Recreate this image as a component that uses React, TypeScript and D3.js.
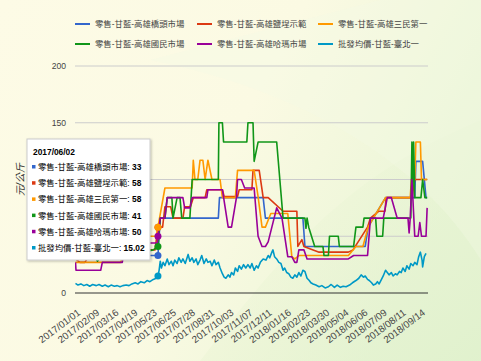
import React from 'react'
import * as d3 from 'd3'

const W = 481
const H = 361

const tickLabels = [
  '2017/01/01', '2017/02/09', '2017/03/16', '2017/04/19', '2017/05/23', '2017/06/25',
  '2017/07/28', '2017/08/31', '2017/10/03', '2017/11/07', '2017/12/11', '2018/01/16',
  '2018/02/23', '2018/03/30', '2018/05/04', '2018/06/06', '2018/07/09', '2018/08/11', '2018/09/14',
]
const yTicks = [0, 50, 100, 150, 200]
const seriesNames = [
  '零售-甘藍-高雄橋頭市場', '零售-甘藍-高雄鹽埕示範', '零售-甘藍-高雄三民第一',
  '零售-甘藍-高雄國民市場', '零售-甘藍-高雄哈瑪市場', '批發均價-甘藍-臺北一',
]
const colors = ['#3366cc', '#dc3912', '#ff9900', '#109618', '#990099', '#0099c6']

const hoverDate = '2017/06/02'
const hoverValues = [33, 58, 58, 41, 50, 15.02]

type P = [string, number]

const qiaotou: P[] = [
  ['2017-01-01', 31], ['2017-03-01', 31], ['2017-03-05', 32], ['2017-04-20', 32], ['2017-04-25', 33],
  ['2017-06-02', 33], ['2017-06-06', 66], ['2017-09-15', 66], ['2017-09-17', 84], ['2017-12-04', 84],
  ['2017-12-08', 66], ['2018-02-18', 66], ['2018-02-22', 41], ['2018-06-10', 41], ['2018-06-15', 58],
  ['2018-06-24', 66], ['2018-07-15', 84], ['2018-09-04', 84], ['2018-09-06', 116], ['2018-09-18', 116],
  ['2018-09-24', 84], ['2018-09-26', 84],
]
const yancheng: P[] = [
  ['2017-01-01', 30], ['2017-01-10', 27], ['2017-01-20', 27], ['2017-01-26', 31], ['2017-03-01', 31],
  ['2017-04-20', 35], ['2017-05-15', 38], ['2017-05-28', 38], ['2017-06-02', 58], ['2017-06-10', 58],
  ['2017-06-14', 76], ['2017-06-24', 76], ['2017-06-28', 66], ['2017-07-15', 66], ['2017-07-18', 76],
  ['2017-07-28', 76], ['2017-08-02', 84], ['2017-08-23', 84], ['2017-08-26', 91], ['2017-09-22', 91],
  ['2017-09-25', 85], ['2017-10-19', 85], ['2017-10-22', 91], ['2017-11-14', 91], ['2017-11-16', 108],
  ['2017-11-27', 108], ['2017-12-02', 91], ['2017-12-04', 84], ['2017-12-13', 84], ['2018-01-10', 72],
  ['2018-02-06', 72], ['2018-02-08', 41], ['2018-02-16', 47], ['2018-02-20', 41], ['2018-03-20', 36],
  ['2018-05-12', 36], ['2018-05-20', 38], ['2018-06-14', 58], ['2018-06-19', 66], ['2018-07-03', 72],
  ['2018-07-14', 72], ['2018-07-16', 84], ['2018-08-30', 84], ['2018-09-04', 100], ['2018-09-26', 100],
]
const sanmin: P[] = [
  ['2017-01-01', 27], ['2017-03-28', 27], ['2017-04-02', 34], ['2017-04-20', 34], ['2017-04-25', 45],
  ['2017-05-15', 50], ['2017-05-30', 50], ['2017-06-02', 58], ['2017-06-14', 92.5], ['2017-07-31', 92.5],
  ['2017-08-02', 117], ['2017-08-05', 100], ['2017-08-10', 100], ['2017-08-14', 117], ['2017-08-19', 117],
  ['2017-08-23', 100], ['2017-08-28', 117], ['2017-09-04', 100], ['2017-09-18', 100], ['2017-09-22', 84],
  ['2017-10-15', 84], ['2017-10-19', 108], ['2017-11-18', 108], ['2017-11-25', 85], ['2017-12-02', 58],
  ['2017-12-08', 58], ['2017-12-18', 70], ['2018-01-19', 70], ['2018-01-27', 32], ['2018-02-02', 30],
  ['2018-02-10', 33], ['2018-05-12', 33], ['2018-05-25', 41], ['2018-06-06', 41], ['2018-06-15', 58],
  ['2018-06-24', 66], ['2018-07-15', 84], ['2018-08-27', 84], ['2018-08-29', 100], ['2018-09-04', 100],
  ['2018-09-06', 133], ['2018-09-14', 133], ['2018-09-16', 100], ['2018-09-26', 100],
]
const guomin: P[] = [
  ['2017-01-01', 32], ['2017-02-10', 32], ['2017-02-14', 28], ['2017-02-20', 32], ['2017-04-10', 34],
  ['2017-05-25', 38], ['2017-06-02', 41], ['2017-06-06', 66], ['2017-06-14', 66], ['2017-06-18', 84],
  ['2017-06-26', 84], ['2017-06-28', 66], ['2017-07-05', 84], ['2017-07-10', 84], ['2017-07-13', 66],
  ['2017-07-27', 66], ['2017-07-31', 100], ['2017-09-15', 100], ['2017-09-16', 150], ['2017-09-22', 150],
  ['2017-09-24', 133], ['2017-11-05', 133], ['2017-11-07', 150], ['2017-11-16', 150], ['2017-11-18', 116],
  ['2017-11-25', 133], ['2017-12-29', 133], ['2018-01-10', 66], ['2018-02-22', 66], ['2018-02-24', 57],
  ['2018-02-26', 66], ['2018-03-01', 58], ['2018-03-12', 41], ['2018-03-27', 41], ['2018-03-29', 33],
  ['2018-04-06', 33], ['2018-04-08', 50], ['2018-04-24', 50], ['2018-04-26', 41], ['2018-05-21', 41],
  ['2018-05-25', 58], ['2018-06-06', 58], ['2018-06-08', 66], ['2018-06-28', 66], ['2018-06-30', 50],
  ['2018-07-10', 50], ['2018-07-12', 66], ['2018-08-28', 66], ['2018-08-30', 133], ['2018-08-31', 84],
  ['2018-09-02', 133], ['2018-09-04', 84], ['2018-09-15', 84], ['2018-09-18', 100], ['2018-09-22', 84],
  ['2018-09-26', 84],
]
const hama: P[] = [
  ['2017-01-01', 27], ['2017-01-02', 20], ['2017-02-20', 20], ['2017-02-23', 27], ['2017-03-31', 27],
  ['2017-04-04', 40], ['2017-05-20', 44], ['2017-06-01', 44], ['2017-06-02', 50], ['2017-06-06', 66],
  ['2017-06-14', 66], ['2017-06-18', 84], ['2017-07-15', 84], ['2017-07-18', 75], ['2017-07-27', 75],
  ['2017-07-31', 84], ['2017-08-26', 84], ['2017-08-28', 91], ['2017-09-22', 91], ['2017-10-02', 58],
  ['2017-10-08', 58], ['2017-10-17', 84], ['2017-10-19', 100], ['2017-10-26', 100], ['2017-11-01', 92.5],
  ['2017-11-18', 92.5], ['2017-11-25', 50], ['2017-12-02', 41], ['2017-12-08', 41], ['2017-12-13', 45],
  ['2017-12-29', 75], ['2018-01-08', 66], ['2018-01-19', 32], ['2018-01-27', 32], ['2018-02-02', 27],
  ['2018-02-06', 27], ['2018-02-10', 38], ['2018-02-20', 38], ['2018-02-26', 30], ['2018-05-12', 30],
  ['2018-05-21', 33], ['2018-06-14', 33], ['2018-06-19', 66], ['2018-07-11', 66], ['2018-07-18', 84],
  ['2018-07-25', 84], ['2018-08-04', 66], ['2018-08-23', 66], ['2018-08-25', 53], ['2018-08-27', 66],
  ['2018-08-30', 100], ['2018-09-04', 50], ['2018-09-10', 50], ['2018-09-13', 62], ['2018-09-16', 50],
  ['2018-09-24', 50], ['2018-09-26', 75],
]
const taipei: P[] = [
  ['2017-01-01', 8.5], ['2017-01-06', 7], ['2017-01-12', 8], ['2017-01-18', 6.5], ['2017-01-24', 7.5],
  ['2017-01-30', 6], ['2017-02-05', 7.5], ['2017-02-12', 6.5], ['2017-02-17', 7.5], ['2017-02-23', 6],
  ['2017-02-28', 7], ['2017-03-06', 5.5], ['2017-03-11', 7], ['2017-03-17', 6], ['2017-03-22', 6.5],
  ['2017-03-27', 5.5], ['2017-04-01', 6.5], ['2017-04-07', 7], ['2017-04-12', 6.5], ['2017-04-17', 8],
  ['2017-04-23', 9], ['2017-04-28', 8], ['2017-05-03', 10], ['2017-05-09', 9], ['2017-05-14', 11],
  ['2017-05-19', 10], ['2017-05-25', 12], ['2017-05-30', 13], ['2017-06-02', 15.02], ['2017-06-04', 20],
  ['2017-06-06', 28], ['2017-06-08', 22], ['2017-06-11', 27], ['2017-06-14', 24], ['2017-06-18', 30],
  ['2017-06-21', 25], ['2017-06-25', 28], ['2017-06-28', 24], ['2017-07-01', 29], ['2017-07-05', 26],
  ['2017-07-08', 31], ['2017-07-12', 27], ['2017-07-15', 30], ['2017-07-19', 26], ['2017-07-24', 34],
  ['2017-07-27', 28], ['2017-07-31', 31], ['2017-08-03', 27], ['2017-08-07', 30], ['2017-08-10', 25],
  ['2017-08-14', 29], ['2017-08-17', 33], ['2017-08-21', 26], ['2017-08-25', 30], ['2017-08-28', 27],
  ['2017-09-01', 28], ['2017-09-04', 24], ['2017-09-08', 29], ['2017-09-11', 25], ['2017-09-15', 27],
  ['2017-09-18', 22], ['2017-09-22', 17], ['2017-09-25', 14], ['2017-09-28', 13], ['2017-10-02', 16],
  ['2017-10-05', 14], ['2017-10-08', 18], ['2017-10-12', 16], ['2017-10-15', 22], ['2017-10-19', 19],
  ['2017-10-22', 24], ['2017-10-26', 21], ['2017-10-30', 25], ['2017-11-03', 22], ['2017-11-07', 25],
  ['2017-11-11', 22], ['2017-11-14', 26], ['2017-11-18', 20], ['2017-11-22', 24], ['2017-11-25', 22],
  ['2017-11-29', 27], ['2017-12-04', 30], ['2017-12-09', 29], ['2017-12-13', 33], ['2017-12-16', 31],
  ['2017-12-20', 36], ['2017-12-22', 38], ['2017-12-25', 32], ['2017-12-29', 30], ['2018-01-02', 27],
  ['2018-01-06', 26], ['2018-01-10', 20], ['2018-01-13', 22], ['2018-01-17', 18], ['2018-01-21', 17],
  ['2018-01-25', 14], ['2018-01-29', 13], ['2018-02-02', 16], ['2018-02-06', 14], ['2018-02-10', 18],
  ['2018-02-14', 15], ['2018-02-18', 20], ['2018-02-22', 19], ['2018-02-26', 13], ['2018-03-02', 11],
  ['2018-03-05', 9], ['2018-03-09', 8], ['2018-03-14', 7], ['2018-03-20', 5.5], ['2018-03-25', 6.5],
  ['2018-03-31', 4.5], ['2018-04-06', 5.5], ['2018-04-11', 7.5], ['2018-04-17', 5], ['2018-04-22', 7],
  ['2018-04-28', 5], ['2018-05-03', 6], ['2018-05-08', 5.5], ['2018-05-14', 7], ['2018-05-19', 9],
  ['2018-05-25', 11], ['2018-05-30', 13], ['2018-06-03', 16], ['2018-06-07', 14], ['2018-06-10', 15],
  ['2018-06-14', 12], ['2018-06-17', 11], ['2018-06-21', 9], ['2018-06-24', 7], ['2018-06-28', 8],
  ['2018-07-01', 10], ['2018-07-04', 8], ['2018-07-08', 12], ['2018-07-11', 15], ['2018-07-15', 20],
  ['2018-07-18', 18], ['2018-07-21', 16], ['2018-07-25', 18], ['2018-07-28', 15], ['2018-08-01', 17],
  ['2018-08-04', 16], ['2018-08-08', 19], ['2018-08-11', 18], ['2018-08-14', 22], ['2018-08-18', 19],
  ['2018-08-21', 24], ['2018-08-25', 21], ['2018-08-28', 26], ['2018-09-01', 24], ['2018-09-04', 27],
  ['2018-09-08', 25], ['2018-09-11', 32], ['2018-09-14', 36], ['2018-09-17', 29], ['2018-09-18', 23],
  ['2018-09-21', 32], ['2018-09-24', 35],
]

const allSeries = [qiaotou, yancheng, sanmin, guomin, hama, taipei]

const font = '"Liberation Sans", Arial, "Noto Sans CJK TC", sans-serif'

const parseTick = d3.timeParse('%Y/%m/%d')
const parseDay = d3.timeParse('%Y-%m-%d')

const App = () => {
  const left = 75
  const right = 428
  const top = 66
  const bottom = 293
  const firstTick = 75.5
  const step = 19.16

  const tickDates = tickLabels.map((t) => parseTick(t) as Date)
  // category-style axis: each labelled date sits one step further along
  const x = d3.scaleTime()
    .domain(tickDates)
    .range(tickDates.map((_, i) => firstTick + i * step))
  const y = d3.scaleLinear().domain([0, 200]).range([bottom, top])

  const line = d3.line<P>()
    .x((d) => x(parseDay(d[0]) as Date))
    .y((d) => y(d[1]))

  const hx = x(parseTick(hoverDate) as Date)
  const legendCols = [75, 197, 318]
  const legendRows = [24, 44]

  const tipX = 27
  const tipY = 139
  const rowY = (i: number) => 167 + i * 16.2

  // wholesale first so the retail lines sit on top
  const drawOrder = [5, 0, 1, 2, 3, 4]

  return (
    <svg width={W} height={H} style={{ position: 'absolute', left: 0, top: 0 }} fontFamily={font}>
      <defs>
        <linearGradient id="bg" x1="0" y1="0" x2="1" y2="0.4">
          <stop offset="0" stopColor="#fdfbe6" />
          <stop offset="0.55" stopColor="#fbfae3" />
          <stop offset="1" stopColor="#e9f5d6" />
        </linearGradient>
        <linearGradient id="band" x1="0" y1="0" x2="1" y2="1">
          <stop offset="0" stopColor="#eef7d8" stopOpacity="0" />
          <stop offset="0.6" stopColor="#e4f2cf" stopOpacity="0.7" />
          <stop offset="1" stopColor="#d9eec6" stopOpacity="0.9" />
        </linearGradient>
        <clipPath id="plot">
          <rect x={left} y={top - 10} width={right - left + 1} height={bottom - top + 10} />
        </clipPath>
        <filter id="shadow" x="-10%" y="-10%" width="130%" height="130%">
          <feDropShadow dx="1" dy="1" stdDeviation="1.2" floodColor="#000" floodOpacity="0.25" />
        </filter>
      </defs>

      <rect x={0} y={0} width={W} height={H} fill="url(#bg)" />
      <path d={`M200,${H} C300,230 360,170 ${W},120 L${W},${H} Z`} fill="url(#band)" opacity={0.6} />
      <path d={`M150,60 C300,90 420,160 ${W},260 L${W},0 L380,0 Z`} fill="#f3f9e4" opacity={0.35} />

      {/* legend */}
      {seriesNames.map((name, i) => {
        const lx = legendCols[i % 3]
        const ly = legendRows[Math.floor(i / 3)]
        return (
          <g key={name}>
            <line x1={lx} x2={lx + 15} y1={ly} y2={ly} stroke={colors[i]} strokeWidth={2} />
            <text x={lx + 20} y={ly} dy="0.35em" fontSize={8.4} fill="#444">{name}</text>
          </g>
        )
      })}

      {/* gridlines */}
      {yTicks.map((t) => (
        <line key={t} x1={left} x2={right} y1={y(t)} y2={y(t)}
          stroke={t === 0 ? '#333' : '#cccccc'} strokeWidth={1} />
      ))}
      {yTicks.map((t) => (
        <text key={t} x={66} y={y(t)} dy="0.35em" textAnchor="end" fontSize={8.6} fill="#444">{t}</text>
      ))}
      <text transform={`translate(24,${(top + bottom) / 2}) rotate(-90)`} textAnchor="middle"
        fontSize={10} fontStyle="italic" fill="#333">元/公斤</text>

      {/* x labels */}
      {tickLabels.map((t, i) => (
        <text key={t} transform={`translate(${x(tickDates[i]) + 5.5},${bottom + 21}) rotate(-37)`}
          textAnchor="end" fontSize={9.8} fill="#444">{t}</text>
      ))}

      {/* series */}
      <g clipPath="url(#plot)">
        {drawOrder.map((i) => (
          <path key={i} d={line(allSeries[i]) || ''} fill="none" stroke={colors[i]}
            strokeWidth={1.6} strokeLinejoin="round" />
        ))}
      </g>

      {/* hover points */}
      {hoverValues.map((v, i) => (
        <circle key={i} cx={hx} cy={y(v)} r={3.5} fill={colors[i]} />
      ))}

      {/* tooltip */}
      <rect x={tipX} y={tipY} width={123} height={121} fill="#fff" stroke="#cccccc" filter="url(#shadow)" />
      <text x={tipX + 6} y={155} fontSize={8.4} fontWeight="bold" fill="#000">{hoverDate}</text>
      {seriesNames.map((name, i) => (
        <g key={name}>
          <rect x={tipX + 5} y={rowY(i) - 2} width={3.5} height={3.5} fill={colors[i]} />
          <text x={tipX + 11} y={rowY(i)} dy="0.35em" fontSize={8.4} fill="#000">
            {name}: <tspan fontWeight="bold">{hoverValues[i]}</tspan>
          </text>
        </g>
      ))}
    </svg>
  )
}

export default App
